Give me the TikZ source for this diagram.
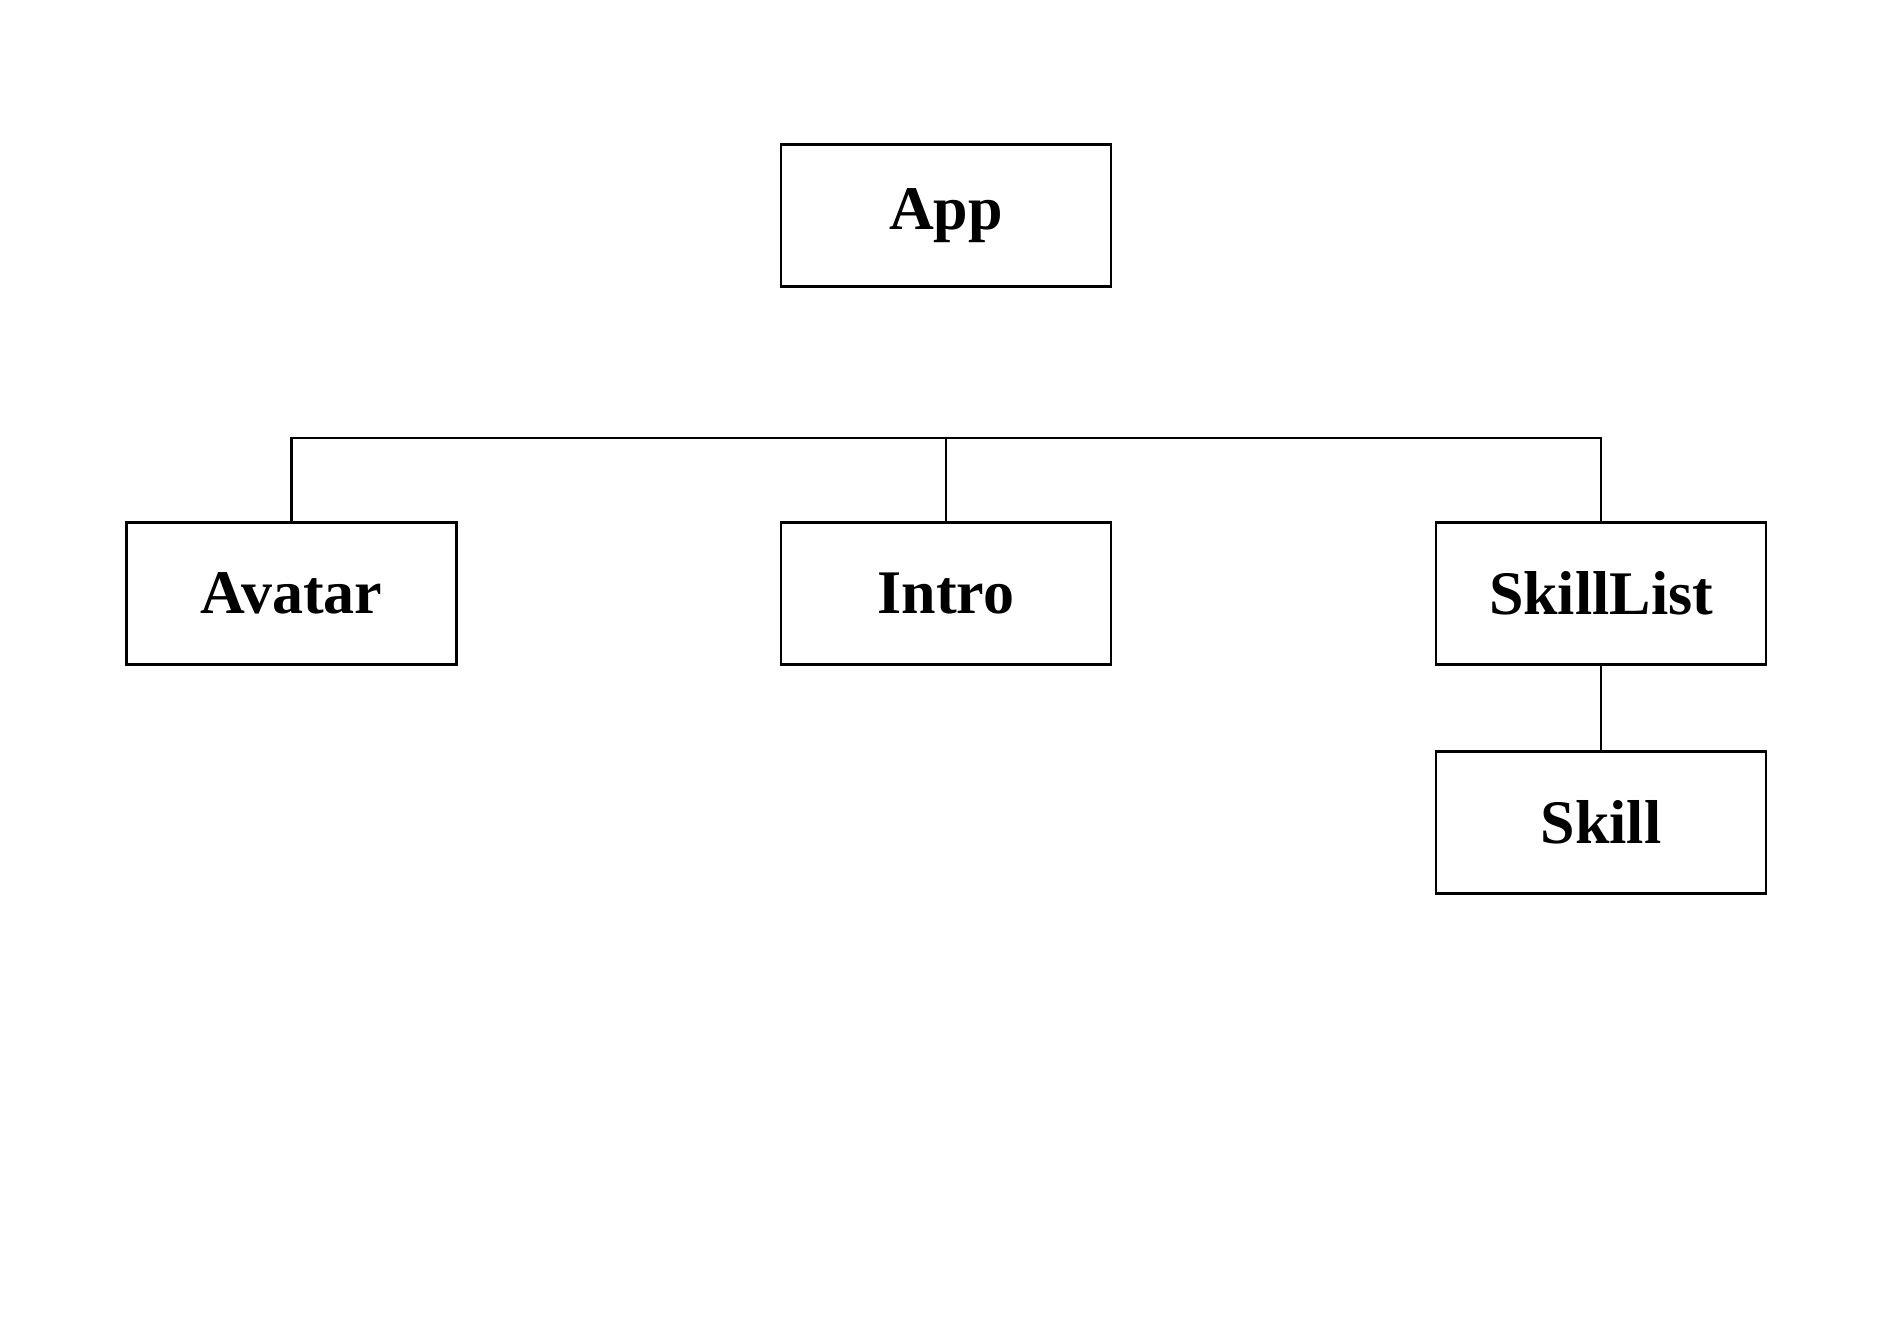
\documentclass[tikz,border=0pt]{standalone}
\usepackage{fontspec}
\setmainfont{Liberation Serif}
\begin{document}
\begin{tikzpicture}[x=1pt,y=-1pt,
  box/.style={draw, line width=2.4pt, minimum width=330pt, minimum height=142pt, inner sep=0pt,
    font=\fontsize{62}{70}\selectfont\bfseries},
  conn/.style={line width=2.2pt}]
\useasboundingbox[fill=white] (0,0) rectangle (1890,1334);
\node[box] (app) at (946,215.5) {App};
\node[box] (avatar) at (291.5,593.5) {Avatar};
\node[box] (intro) at (946,593.5) {Intro};
\node[box] (skilllist) at (1601,593.5) {SkillList};
\node[box] (skill) at (1601,822.5) {Skill};
\coordinate (bus) at (0,438);
\draw[conn] (avatar.north) -- (avatar.north |- bus) -- (skilllist.north |- bus) -- (skilllist.north);
\draw[conn] (intro.north) -- (intro.north |- bus);
\draw[conn] (skilllist.south) -- (skill.north);
\end{tikzpicture}
\end{document}
